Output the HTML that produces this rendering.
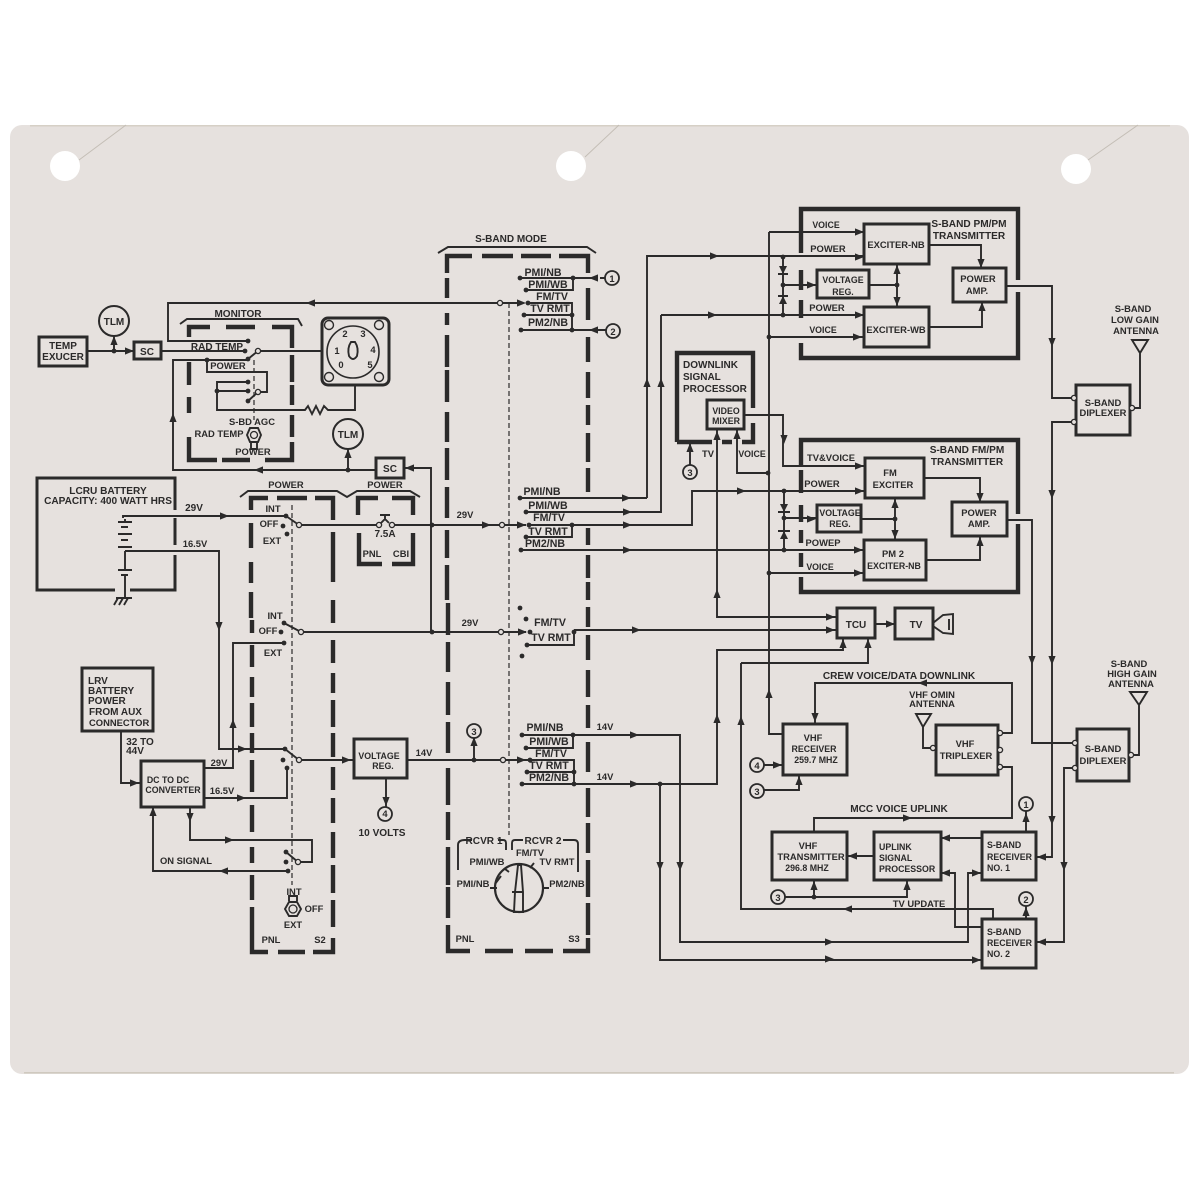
<!DOCTYPE html>
<html><head><meta charset="utf-8"><title>S-Band diagram</title>
<style>
html,body{margin:0;padding:0;background:#fff}
svg{display:block}
text{font-family:"Liberation Sans",sans-serif;font-weight:bold;font-size:10px;fill:#2b2a2a;text-anchor:middle}
.s{text-anchor:start}
.t{font-size:9.4px}
.v{font-size:8.8px}
.p{font-size:10.6px}
.m{font-size:10.1px}
.l{fill:none;stroke:#2b2a2a;stroke-width:1.9}
.d{fill:none;stroke:#2b2a2a;stroke-width:4.4}
.b{fill:none;stroke:#2b2a2a;stroke-width:3}
.h{fill:none;stroke:#2b2a2a;stroke-width:1.2;stroke-dasharray:5 3}
</style></head><body>
<svg xmlns="http://www.w3.org/2000/svg" width="1200" height="1198" viewBox="0 0 1200 1198">
<defs>
<path id="r" d="M4 0L-5 -3.6V3.6Z" fill="#2b2a2a"/>
<path id="e" d="M-4 0L5 -3.6V3.6Z" fill="#2b2a2a"/>
<path id="u" d="M0 -4L-3.6 5H3.6Z" fill="#2b2a2a"/>
<path id="w" d="M0 4L-3.6 -5H3.6Z" fill="#2b2a2a"/>
<circle id="o" r="2.4" fill="#2b2a2a"/>
<circle id="c" r="2.6" fill="#e6e1de" stroke="#2b2a2a" stroke-width="1.3"/>
<circle id="k" r="7" fill="#e6e1de" stroke="#2b2a2a" stroke-width="1.8"/>
</defs>
<rect width="1200" height="1198" fill="#fff"/>
<rect x="10" y="125" width="1179" height="949" rx="12" fill="#e6e1de"/>
<rect x="24" y="1072" width="1150" height="1.5" fill="#cfc9bf"/>
<rect x="30" y="125" width="1140" height="1.5" fill="#d6d0c6"/>
<g stroke="#c4beb6" stroke-width="1" fill="none">
<path d="M79 160L126 125M585 157L619 125M1088 160L1138 125"/>
</g>
<circle cx="65" cy="166" r="15" fill="#fff"/><circle cx="571" cy="166" r="15" fill="#fff"/><circle cx="1076" cy="169" r="15" fill="#fff"/>

<!-- thick dashed panels -->
<path class="d" d="M189 337V327H210M226 327H255M272 327H292V348M292 355V382M292 385V405M292 415V437M292 442V460H265M250 460H222M217 460H189V437M189 413V397M189 385V362
M251 510V498H268M277 498H307M315 498H333V520M333 532V582M333 600V623M333 640V663M333 673V693M333 700V727M333 733V757M333 767V790M333 798V823M333 832V858M333 865V893M333 900V927M333 938V952H313M305 952H278M268 952H252V935M252 907V935M252 900V875M252 863V847M252 832V805M252 792V760M252 753V733M252 727V703M252 697V677M252 667V645M252 633V620M251 618V592M251 583V562M251 548V523
M358 515V498H378M392 498H413V515M413 533V564H392M382 564H359V533
M447 273V256H472M482 256H513M521 256H551M559 256H588V273M588 288V320M588 337V362M588 372V398M588 405V425M588 433V462M588 468V492M588 528V545M588 555V578M588 582V600M588 607V627M588 635V660M588 670V697M588 705V728M588 742V772M588 788V817M588 823V853M588 860V897M588 903V935M588 938V951H563M553 951H525M513 951H485M470 951H448V925M448 918V887M448 885V847M448 840V812M448 805V768M448 753V722M448 715V682M448 672V642M448 635V603M447 565V600M447 558V530M447 518V487M447 480V448M447 442V412M447 402V370M447 367V335M447 325V313M447 298V278
M801 236V209H1018V280M1018 292V358H801V343M801 318V300M801 290V270M801 253V235
M801 465V440H1018V514M1018 524V592H801V577M801 567V553M801 543V530M801 522V505M801 493V470"/>
<path class="d" d="M677 442V353H753V408M753 423V442H742M732 442H722M712 442H677"/>
<!-- solid boxes -->
<g class="b">
<rect x="39" y="337" width="48" height="29"/>
<rect x="134" y="342" width="27" height="17"/>
<rect x="376" y="458" width="28" height="20"/>
<path d="M175 510V478H37V590H115M130 590H175V555M175 545V518"/>
<rect x="82" y="668" width="71" height="63"/>
<rect x="141" y="761" width="63" height="46"/>
<rect x="354" y="739" width="53" height="39"/>
<rect x="864" y="224" width="65" height="40"/>
<rect x="864" y="307" width="65" height="40"/>
<rect x="817" y="270" width="52" height="28"/>
<rect x="953" y="268" width="53" height="34"/>
<rect x="865" y="458" width="59" height="40"/>
<rect x="864" y="540" width="62" height="40"/>
<rect x="817" y="505" width="44" height="27"/>
<rect x="952" y="502" width="55" height="34"/>
<rect x="707" y="400" width="37" height="29"/>
<rect x="1076" y="385" width="54" height="50"/>
<rect x="1077" y="729" width="52" height="52"/>
<rect x="837" y="608" width="38" height="30"/>
<rect x="895" y="608" width="38" height="31"/>
<rect x="783" y="724" width="64" height="51"/>
<rect x="936" y="725" width="62" height="50"/>
<rect x="772" y="832" width="75" height="48"/>
<rect x="874" y="832" width="67" height="48"/>
<rect x="982" y="832" width="54" height="48"/>
<rect x="982" y="919" width="54" height="49"/>
<rect x="322" y="318" width="67" height="67" rx="6"/>
</g>
<!-- wires -->
<path class="l" d="M87 351H134M114 351V336M161 351H245M261 351H322M248 341H168V303H520M248 360H173V470H376M348 470V449M404 468H431V632M207 360V372H267V392H261M248 382H217V410H305l3 -4 4 8 4 -8 4 8 4 -8 4 4H355V385M217 391H248M258 392L248 401M258 351L248 359
M180 324L187 319H298L302 326M240 497L248 491H337L347 497L357 491H410L420 497
M123 518V516H285M125 551H219V749H285M118 522H132M121 527H128M118 534H132M121 540H128M118 547H132M125 519V522M125 551V558M118 570H132M121 575H128M125 558V570M125 575V598M116 598H132M118 598l-4 7M123 598l-4 7M128 598l-4 7
M301 525H376M392 525H526M299 525L286 516M381 523L385 519L389 523M385 520V515M380 515H390
M301 632H526M301 632L284 623M284 643H233V768H204M204 798H287V768M121 731V783H141M299 760H354M299 760L285 749M407 760H528M386 778V807M190 807V840H312V862H298L286 852M288 871H153V807
M500 303V303M520 278H593M526 290H573V278M605 278H600M528 303H572V330M524 315H572M521 330H606M647 498V256H864M521 498H647M661 315H864M661 315V512H527M574 632V645H527M574 630H837
M529 525H692V491H865M572 525V537H526M521 550H864
M522 735H680V942H968V873H982M573 735V748H526M530 760H574V784M527 772H574M522 784H717V650H843V638M660 784V960H982M741 663H868V638M741 663V909H993V919M717 430V617H837M875 624H895
M474 760V738
M769 232V734H783M769 232H864M769 337H864M769 473H737V429M769 573H864M745 415H783V466H865
M783 257V315M783 285H817M784 491V550M784 518H817
M869 285H897M897 264V307M861 519H895M895 498V540
M929 245H981V268M929 327H982V302M924 478H980V502M926 560H980V536
M1006 286H1052V398H1073M1073 422H1052V857H1036M1007 520H1032V743H1075M1075 768H1064V942H1036M1133 408H1140V353M1133 755H1139V705
M690 443V465
M764 765H783M764 790H799V775
M815 723V683H1012V733H1000M1002 767H1012V818H814V832M923 727V748H933
M785 897H907V880M814 897V880M874 856H847M982 838H941M982 927H955V873H941M1026 832V811M1026 919V906
M1132 340H1148L1140 353ZM1130 692H1147L1139 705ZM916 714H931L923 727Z
M933 623L943 615L953 614V634L943 633L933 626ZM949 619V630
M512 892H523M438 253L448 247H587L596 253
M458 870V845Q458 840 465 840H472M498 840H503Q506 840 506 843V850M512 850V843Q512 840 515 840H523M563 840H574Q578 840 578 844V872
M495 884L501 876M505 869L509 872M530 868L534 863M543 888H549M497 888H490
M515 892L518 865L521 865L523 892V912H514Z"/>
<circle cx="519" cy="888" r="24" fill="none" stroke="#2b2a2a" stroke-width="2.2"/>
<path class="h" d="M254 360V420M292 505V885M509 303V835"/>
<!-- dial -->
<circle cx="353" cy="352" r="26" fill="none" stroke="#2b2a2a" stroke-width="1.6"/>
<path class="l" d="M349 356Q353 362 357 356Q359 348 355 342H351Q347 348 349 356Z"/>
<g fill="none" stroke="#2b2a2a" stroke-width="1.4"><circle cx="329" cy="325" r="4.5"/><circle cx="379" cy="325" r="4.5"/><circle cx="329" cy="377" r="4.5"/><circle cx="379" cy="377" r="4.5"/></g>
<!-- toggles -->
<path class="l" d="M247 435L250 428H258L261 435L258 442H250ZM251 443V449H257V443"/><circle cx="254" cy="435" r="3.5" fill="none" stroke="#2b2a2a" stroke-width="1.3"/>
<path class="l" d="M285 909L289 902H297L301 909L297 916H289ZM289 901V896H297V901"/><circle cx="293" cy="909" r="4" fill="none" stroke="#2b2a2a" stroke-width="1.3"/>
<!-- diodes -->
<path d="M783 274L779 266H787ZM783 296L779 304H787ZM784 512L780 504H788ZM784 531L780 539H788Z" fill="#2b2a2a"/>
<path class="l" d="M778 274H788M778 296H788M778 512H790M778 531H790"/>
<!-- arrows -->
<use href="#r" x="130" y="351"/><use href="#u" x="114" y="340"/><use href="#e" x="310" y="303"/><use href="#u" x="173" y="417"/><use href="#e" x="258" y="470"/><use href="#u" x="348" y="453"/><use href="#e" x="409" y="468"/>
<use href="#r" x="225" y="516"/><use href="#w" x="219" y="627"/><use href="#r" x="243" y="749"/><use href="#u" x="233" y="723"/><use href="#r" x="242" y="798"/><use href="#r" x="135" y="783"/><use href="#r" x="347" y="760"/><use href="#w" x="386" y="802"/><use href="#w" x="190" y="818"/><use href="#r" x="230" y="840"/><use href="#e" x="223" y="871"/><use href="#u" x="153" y="811"/>
<use href="#r" x="487" y="525"/><use href="#r" x="522" y="525"/><use href="#r" x="522" y="303"/><use href="#r" x="523" y="632"/><use href="#r" x="522" y="760"/>
<use href="#e" x="593" y="278"/><use href="#e" x="593" y="330"/><use href="#r" x="715" y="256"/><use href="#r" x="713" y="315"/><use href="#u" x="647" y="382"/><use href="#u" x="661" y="382"/><use href="#r" x="627" y="498"/><use href="#r" x="628" y="512"/><use href="#r" x="628" y="525"/><use href="#r" x="628" y="550"/><use href="#r" x="742" y="491"/><use href="#r" x="637" y="630"/><use href="#r" x="635" y="735"/><use href="#r" x="635" y="784"/><use href="#u" x="474" y="741"/>
<use href="#w" x="680" y="867"/><use href="#w" x="660" y="867"/><use href="#u" x="717" y="718"/><use href="#u" x="741" y="720"/><use href="#u" x="717" y="593"/><use href="#r" x="830" y="942"/><use href="#r" x="830" y="959"/><use href="#r" x="977" y="873"/><use href="#r" x="977" y="960"/>
<use href="#r" x="860" y="232"/><use href="#r" x="860" y="257"/><use href="#r" x="860" y="315"/><use href="#r" x="858" y="337"/><use href="#r" x="812" y="285"/><use href="#w" x="981" y="264"/><use href="#u" x="982" y="306"/><use href="#u" x="897" y="269"/><use href="#w" x="897" y="302"/>
<use href="#w" x="784" y="440"/><use href="#r" x="860" y="466"/><use href="#r" x="860" y="491"/><use href="#r" x="859" y="550"/><use href="#r" x="859" y="573"/><use href="#r" x="812" y="519"/><use href="#w" x="980" y="498"/><use href="#u" x="980" y="541"/><use href="#u" x="895" y="503"/><use href="#w" x="895" y="535"/>
<use href="#w" x="1052" y="343"/><use href="#w" x="1052" y="495"/><use href="#w" x="1052" y="661"/><use href="#w" x="1052" y="821"/><use href="#w" x="1032" y="661"/><use href="#w" x="1064" y="867"/><use href="#e" x="1041" y="857"/><use href="#e" x="1041" y="942"/>
<use href="#u" x="690" y="447"/><use href="#u" x="717" y="435"/><use href="#u" x="737" y="434"/><use href="#u" x="769" y="693"/>
<use href="#r" x="831" y="617"/><use href="#r" x="831" y="630"/><use href="#u" x="843" y="643"/><use href="#u" x="868" y="643"/><use href="#r" x="891" y="624"/>
<use href="#e" x="922" y="683"/><use href="#w" x="815" y="718"/><use href="#r" x="778" y="765"/><use href="#u" x="799" y="780"/><use href="#r" x="908" y="818"/><use href="#e" x="852" y="856"/><use href="#e" x="945" y="838"/><use href="#e" x="945" y="873"/><use href="#u" x="814" y="885"/><use href="#u" x="907" y="885"/><use href="#u" x="1026" y="817"/><use href="#u" x="1026" y="911"/><use href="#e" x="847" y="909"/>
<!-- dots -->
<use href="#o" x="114" y="351"/><use href="#o" x="245" y="351"/><use href="#o" x="248" y="341"/><use href="#o" x="248" y="359"/><use href="#o" x="207" y="360"/><use href="#o" x="248" y="382"/><use href="#o" x="248" y="391"/><use href="#o" x="248" y="401"/><use href="#o" x="217" y="391"/><use href="#o" x="348" y="470"/>
<use href="#o" x="286" y="516"/><use href="#o" x="283" y="526"/><use href="#o" x="287" y="534"/><use href="#o" x="284" y="623"/><use href="#o" x="281" y="632"/><use href="#o" x="284" y="643"/><use href="#o" x="285" y="749"/><use href="#o" x="283" y="760"/><use href="#o" x="287" y="768"/><use href="#o" x="286" y="852"/><use href="#o" x="286" y="862"/><use href="#o" x="288" y="871"/><use href="#o" x="432" y="525"/><use href="#o" x="432" y="632"/><use href="#o" x="474" y="760"/>
<use href="#o" x="520" y="278"/><use href="#o" x="526" y="290"/><use href="#o" x="528" y="303"/><use href="#o" x="524" y="315"/><use href="#o" x="521" y="330"/><use href="#o" x="573" y="278"/><use href="#o" x="572" y="315"/><use href="#o" x="572" y="330"/>
<use href="#o" x="520" y="498"/><use href="#o" x="526" y="512"/><use href="#o" x="529" y="525"/><use href="#o" x="526" y="537"/><use href="#o" x="521" y="550"/><use href="#o" x="572" y="525"/>
<use href="#o" x="520" y="608"/><use href="#o" x="526" y="619"/><use href="#o" x="530" y="632"/><use href="#o" x="527" y="645"/><use href="#o" x="522" y="656"/><use href="#o" x="574" y="632"/>
<use href="#o" x="522" y="735"/><use href="#o" x="526" y="748"/><use href="#o" x="530" y="760"/><use href="#o" x="527" y="772"/><use href="#o" x="522" y="784"/><use href="#o" x="573" y="735"/><use href="#o" x="574" y="772"/><use href="#o" x="574" y="784"/><use href="#o" x="660" y="784"/>
<use href="#o" x="783" y="257"/><use href="#o" x="783" y="285"/><use href="#o" x="783" y="315"/><use href="#o" x="769" y="337"/><use href="#o" x="768" y="473"/><use href="#o" x="769" y="573"/><use href="#o" x="784" y="491"/><use href="#o" x="784" y="518"/><use href="#o" x="784" y="550"/><use href="#o" x="897" y="285"/><use href="#o" x="895" y="519"/><use href="#o" x="814" y="897"/>
<!-- open contacts -->
<use href="#c" x="258" y="351"/><use href="#c" x="258" y="392"/><use href="#c" x="299" y="525"/><use href="#c" x="379" y="525"/><use href="#c" x="392" y="525"/><use href="#c" x="301" y="632"/><use href="#c" x="299" y="760"/><use href="#c" x="298" y="862"/><use href="#c" x="500" y="303"/><use href="#c" x="502" y="525"/><use href="#c" x="501" y="632"/><use href="#c" x="503" y="760"/>
<use href="#c" x="1074" y="398"/><use href="#c" x="1074" y="422"/><use href="#c" x="1132" y="408"/><use href="#c" x="1075" y="743"/><use href="#c" x="1075" y="768"/><use href="#c" x="1131" y="755"/><use href="#c" x="1000" y="733"/><use href="#c" x="1000" y="750"/><use href="#c" x="1000" y="767"/><use href="#c" x="933" y="748"/>
<!-- numbered circles -->
<use href="#k" x="612" y="278"/><use href="#k" x="613" y="331"/><use href="#k" x="690" y="472"/><use href="#k" x="474" y="731"/><use href="#k" x="385" y="814"/><use href="#k" x="757" y="765"/><use href="#k" x="757" y="791"/><use href="#k" x="778" y="897"/><use href="#k" x="1026" y="804"/><use href="#k" x="1026" y="899"/>
<circle cx="114" cy="321" r="15" fill="none" stroke="#2b2a2a" stroke-width="2"/><circle cx="348" cy="434" r="15" fill="none" stroke="#2b2a2a" stroke-width="2"/>
<!-- labels -->
<text x="63" y="349">TEMP</text><text x="63" y="360">EXUCER</text><text x="114" y="325">TLM</text><text x="147" y="355">SC</text><text x="348" y="438">TLM</text><text x="390" y="472">SC</text>
<text x="238" y="317">MONITOR</text><text x="217" y="350">RAD TEMP</text><text x="228" y="369" class="t">POWER</text><text x="252" y="425" class="t">S-BD AGC</text><text x="219" y="437" class="t">RAD TEMP</text><text x="253" y="455" class="t">POWER</text>
<text x="345" y="337" class="t">2</text><text x="363" y="337" class="t">3</text><text x="337" y="354" class="t">1</text><text x="373" y="353" class="t">4</text><text x="341" y="368" class="t">0</text><text x="370" y="368" class="t">5</text>
<text x="108" y="494" class="m">LCRU BATTERY</text><text x="108" y="504" class="m">CAPACITY: 400 WATT HRS</text><text x="194" y="511">29V</text><text x="195" y="547" class="t">16.5V</text>
<text x="286" y="488" class="t">POWER</text><text x="385" y="488" class="t">POWER</text><text x="273" y="512" class="t">INT</text><text x="269" y="527" class="t">OFF</text><text x="272" y="544" class="t">EXT</text><text x="385" y="537">7.5A</text><text x="372" y="557" class="t">PNL</text><text x="401" y="557" class="t">CBI</text>
<text x="275" y="619" class="t">INT</text><text x="268" y="634" class="t">OFF</text><text x="273" y="656" class="t">EXT</text><text x="470" y="626" class="t">29V</text><text x="465" y="518" class="t">29V</text>
<text x="88" y="684" class="s">LRV</text><text x="88" y="694" class="s">BATTERY</text><text x="88" y="704" class="s">POWER</text><text x="89" y="715" class="s">FROM AUX</text><text x="89" y="726" class="s t">CONNECTOR</text>
<text x="140" y="745">32 TO</text><text x="135" y="754">44V</text><text x="168" y="783" class="v">DC TO DC</text><text x="173" y="793" class="v">CONVERTER</text><text x="219" y="766" class="t">29V</text><text x="222" y="794" class="t">16.5V</text><text x="186" y="864" class="t">ON SIGNAL</text>
<text x="379" y="759" class="v">VOLTAGE</text><text x="383" y="769" class="v">REG.</text><text x="424" y="756" class="t">14V</text><text x="385" y="817" class="t">4</text><text x="382" y="836" class="m">10 VOLTS</text>
<text x="294" y="895" class="t">INT</text><text x="314" y="912" class="t">OFF</text><text x="293" y="928" class="t">EXT</text><text x="271" y="943" class="t">PNL</text><text x="320" y="943" class="t">S2</text>
<text x="511" y="242">S-BAND MODE</text>
<text x="543" y="276" class="p">PMI/NB</text><text x="548" y="288" class="p">PMI/WB</text><text x="552" y="300" class="p">FM/TV</text><text x="550" y="312" class="p">TV RMT</text><text x="548" y="326" class="p">PM2/NB</text>
<text x="542" y="495" class="p">PMI/NB</text><text x="548" y="509" class="p">PMI/WB</text><text x="549" y="521" class="p">FM/TV</text><text x="548" y="535" class="p">TV RMT</text><text x="545" y="547" class="p">PM2/NB</text>
<text x="550" y="626" class="p">FM/TV</text><text x="551" y="641" class="p">TV RMT</text>
<text x="545" y="731" class="p">PMI/NB</text><text x="549" y="745" class="p">PMI/WB</text><text x="551" y="757" class="p">FM/TV</text><text x="549" y="769" class="p">TV RMT</text><text x="549" y="781" class="p">PM2/NB</text><text x="605" y="730" class="t">14V</text><text x="605" y="780" class="t">14V</text>
<text x="612" y="282" class="t">1</text><text x="613" y="335" class="t">2</text><text x="690" y="476" class="t">3</text><text x="474" y="735" class="t">3</text><text x="757" y="769" class="t">4</text><text x="757" y="795" class="t">3</text><text x="778" y="901" class="t">3</text><text x="1026" y="808" class="t">1</text><text x="1026" y="903" class="t">2</text>
<text x="484" y="844" class="m">RCVR 1</text><text x="543" y="844" class="m">RCVR 2</text><text x="530" y="856" class="t">FM/TV</text><text x="487" y="865" class="t">PMI/WB</text><text x="557" y="865" class="t">TV RMT</text><text x="473" y="887" class="t">PMI/NB</text><text x="567" y="887" class="t">PM2/NB</text><text x="465" y="942" class="t">PNL</text><text x="574" y="942" class="t">S3</text>
<text x="683" y="368" class="s">DOWNLINK</text><text x="683" y="380" class="s">SIGNAL</text><text x="683" y="392" class="s">PROCESSOR</text><text x="726" y="414" class="v">VIDEO</text><text x="726" y="424" class="v">MIXER</text><text x="708" y="457" class="t">TV</text><text x="752" y="457" class="v">VOICE</text>
<text x="826" y="228" class="v">VOICE</text><text x="828" y="252" class="t">POWER</text><text x="827" y="311" class="t">POWER</text><text x="823" y="333" class="v">VOICE</text><text x="896" y="248" class="t">EXCITER-NB</text><text x="896" y="333" class="t">EXCITER-WB</text><text x="843" y="283" class="v">VOLTAGE</text><text x="843" y="295" class="v">REG.</text><text x="978" y="282" class="t">POWER</text><text x="977" y="294" class="t">AMP.</text><text x="969" y="227" class="m">S-BAND PM/PM</text><text x="969" y="239" class="m">TRANSMITTER</text>
<text x="831" y="461" class="t">TV&amp;VOICE</text><text x="822" y="487" class="t">POWER</text><text x="823" y="546" class="t">POWEP</text><text x="820" y="570" class="v">VOICE</text><text x="890" y="476" class="t">FM</text><text x="893" y="488" class="t">EXCITER</text><text x="840" y="516" class="v">VOLTAGE</text><text x="840" y="527" class="v">REG.</text><text x="979" y="516" class="t">POWER</text><text x="979" y="527" class="t">AMP.</text><text x="893" y="557" class="t">PM 2</text><text x="894" y="569" class="v">EXCITER-NB</text><text x="967" y="453" class="m">S-BAND FM/PM</text><text x="967" y="465" class="m">TRANSMITTER</text>
<text x="1103" y="406" class="t">S-BAND</text><text x="1103" y="416" class="t">DIPLEXER</text><text x="1133" y="312" class="t">S-BAND</text><text x="1135" y="323" class="t">LOW GAIN</text><text x="1136" y="334" class="t">ANTENNA</text>
<text x="1103" y="752" class="t">S-BAND</text><text x="1103" y="764" class="t">DIPLEXER</text><text x="1129" y="667" class="t">S-BAND</text><text x="1132" y="677" class="t">HIGH GAIN</text><text x="1131" y="687" class="t">ANTENNA</text>
<text x="856" y="628">TCU</text><text x="916" y="628">TV</text><text x="899" y="679" class="m">CREW VOICE/DATA DOWNLINK</text><text x="932" y="698" class="t">VHF OMIN</text><text x="932" y="707" class="t">ANTENNA</text>
<text x="813" y="741" class="t">VHF</text><text x="814" y="752" class="v">RECEIVER</text><text x="816" y="763" class="v">259.7 MHZ</text><text x="965" y="747" class="t">VHF</text><text x="966" y="759" class="t">TRIPLEXER</text><text x="899" y="812" class="m">MCC VOICE UPLINK</text>
<text x="808" y="849" class="t">VHF</text><text x="811" y="860" class="t">TRANSMITTER</text><text x="807" y="871" class="v">296.8 MHZ</text><text x="879" y="850" class="s v">UPLINK</text><text x="879" y="861" class="s v">SIGNAL</text><text x="879" y="872" class="s v">PROCESSOR</text>
<text x="987" y="848" class="s v">S-BAND</text><text x="987" y="860" class="s v">RECEIVER</text><text x="987" y="871" class="s v">NO. 1</text><text x="987" y="935" class="s v">S-BAND</text><text x="987" y="946" class="s v">RECEIVER</text><text x="987" y="957" class="s v">NO. 2</text><text x="919" y="907" class="t">TV UPDATE</text>
</svg>
</body></html>
